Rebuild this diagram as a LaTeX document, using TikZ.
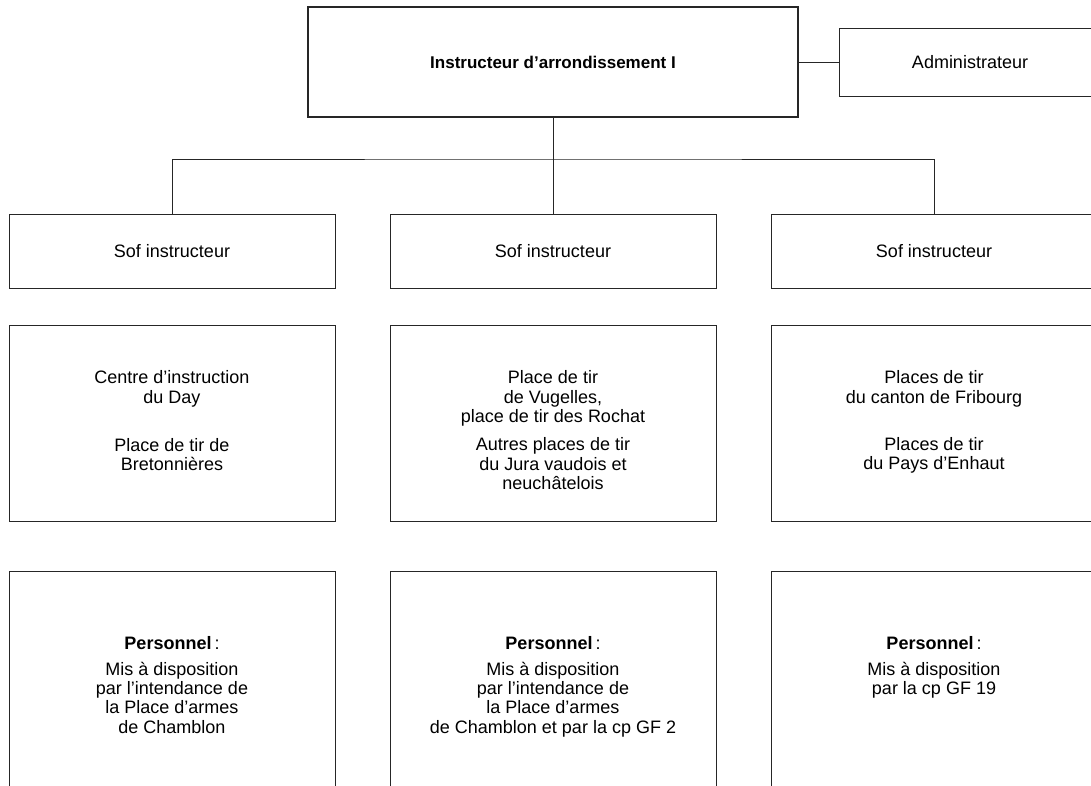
\documentclass[tikz,border=0pt]{standalone}
\usepackage{fontspec}
\setmainfont{Liberation Sans}
\usepackage{tikz}
\usetikzlibrary{calc,positioning}

\tikzset{
  Box/.style={draw=black!85,line width=0.9pt,inner sep=0pt,
    minimum width=326pt,font=\fontsize{18}{19.5}\selectfont},
  Txt/.style={inner sep=0pt,align=center,font=\fontsize{18}{19.3}\selectfont},
  EdgeStyle/.style={draw=black!85,line width=0.9pt}
}

\begin{document}
\begin{tikzpicture}[x=1pt,y=-1pt]
            \clip (0,0) rectangle (1091,785);
            \fill[white] (0,0) rectangle (1091,785);

            % head of the district
            \node[Box,line width=2.4pt,minimum width=490pt,minimum height=110pt,
                  font=\fontsize{17}{19}\selectfont\bfseries] (chef) at (553,62)
              {Instructeur d’arrondissement I};
            \node[Box,minimum width=262pt,minimum height=68pt] (admin) at (970,62){Administrateur};

            % three columns
            \node[Box,minimum height=74pt] (sof1) at (172,251){Sof instructeur};
            \node[Box,minimum height=74pt] (sof2) at (553,251){Sof instructeur};
            \node[Box,minimum height=74pt] (sof3) at (934,251){Sof instructeur};

            \node[Box,minimum height=196pt] (tir1) at (172,423){};
            \node[Box,minimum height=196pt] (tir2) at (553,423){};
            \node[Box,minimum height=196pt] (tir3) at (934,423){};

            \node[Box,minimum height=240pt] (pers1) at (172,691){};
            \node[Box,minimum height=240pt] (pers2) at (553,691){};
            \node[Box,minimum height=240pt] (pers3) at (934,691){};

            \node[Txt,below=46pt of tir1.north] (tir1txt)
              {Centre d’instruction\\du Day\\[29pt]Place de tir de\\Bretonnières};
            \node[Txt,below=46pt of tir2.north] (tir2txt)
              {Place de tir\\de Vugelles,\\place de tir des Rochat\\[9pt]Autres places de tir\\du Jura vaudois et\\neuchâtelois};
            \node[Txt,below=46pt of tir3.north] (tir3txt)
              {Places de tir\\du canton de Fribourg\\[28pt]Places de tir\\du Pays d’Enhaut};

            \node[Txt,below=66pt of pers1.north] (pers1txt)
              {\textbf{Personnel}\,:\\[6pt]Mis à disposition\\par l’intendance de\\la Place d’armes\\de Chamblon};
            \node[Txt,below=66pt of pers2.north] (pers2txt)
              {\textbf{Personnel}\,:\\[6pt]Mis à disposition\\par l’intendance de\\la Place d’armes\\de Chamblon et par la cp GF 2};
            \node[Txt,below=66pt of pers3.north] (pers3txt)
              {\textbf{Personnel}\,:\\[6pt]Mis à disposition\\par la cp GF 19};

            % links
            \coordinate (split) at (553,159);
            \draw[EdgeStyle] (chef) -- (admin);
            \draw[EdgeStyle] (chef) -- (split);
            \draw[EdgeStyle] (sof1) |- (split) -| (sof3);
            \draw[EdgeStyle] (split) -- (sof2);

          \end{tikzpicture}
\end{document}
